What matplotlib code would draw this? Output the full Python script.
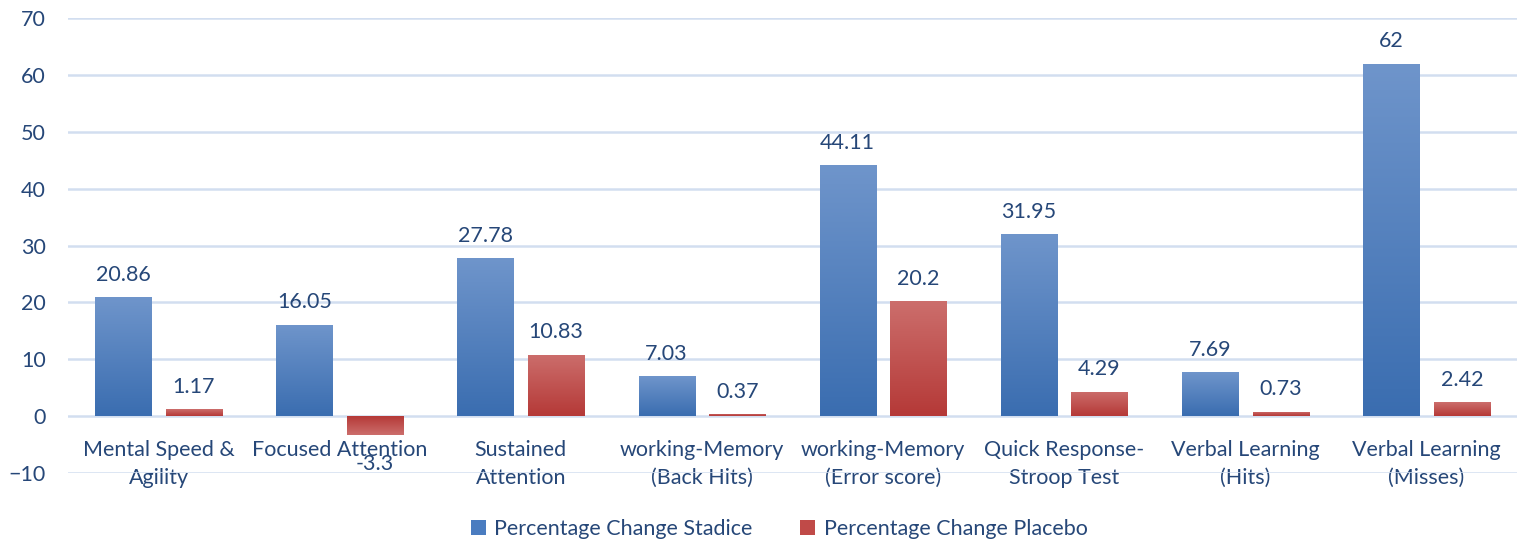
import numpy as np
import matplotlib
matplotlib.use("Agg")
import matplotlib.pyplot as plt
from matplotlib.colors import LinearSegmentedColormap

categories = ["Mental Speed &\nAgility", "Focused Attention", "Sustained\nAttention",
              "working-Memory\n(Back Hits)", "working-Memory\n(Error score)",
              "Quick Response-\nStroop Test", "Verbal Learning\n(Hits)", "Verbal Learning\n(Misses)"]
stadice = [20.86, 16.05, 27.78, 7.03, 44.11, 31.95, 7.69, 62]
placebo = [1.17, -3.3, 10.83, 0.37, 20.2, 4.29, 0.73, 2.42]
series_names = ["Percentage Change Stadice", "Percentage Change Placebo"]

plt.rcParams['font.family'] = ['Lato', 'DejaVu Sans']
txt = "#264778"
fs = 15.5

fig = plt.figure(figsize=(15.17, 5.39), dpi=100)
ax = fig.add_axes([68/1517, 1-473/539, 1-68/1517, (473-18)/539])

x = np.arange(len(categories))
w = 0.31
off = 0.195
b1 = ax.bar(x - off, stadice, w, color="#4a7cc0", label=series_names[0], zorder=2)
b2 = ax.bar(x + off, placebo, w, color="#c04a48", label=series_names[1], zorder=2)

blue_cmap = LinearSegmentedColormap.from_list("b", ["#3a6db0", "#6f95cb"])
red_cmap = LinearSegmentedColormap.from_list("r", ["#b53937", "#cc6e6c"])
grad = np.linspace(0, 1, 256).reshape(-1, 1)
for bars, cmap in ((b1, blue_cmap), (b2, red_cmap)):
    for p in bars:
        x0, y0 = p.get_x(), p.get_y()
        wd, ht = p.get_width(), p.get_height()
        lo, hi = min(y0, y0 + ht), max(y0, y0 + ht)
        g = grad if ht >= 0 else grad[::-1]
        im = ax.imshow(g, cmap=cmap, aspect='auto', origin='lower',
                       extent=[x0, x0 + wd, lo, hi], zorder=3)
        im.set_clip_path(p)
        p.set_facecolor("none")

for bars, vals in ((b1, stadice), (b2, placebo)):
    for p, v in zip(bars, vals):
        cx = p.get_x() + p.get_width() / 2
        if v >= 0:
            ax.annotate(f"{v:g}", (cx, v), xytext=(0, 9), textcoords="offset points",
                        ha="center", va="bottom", fontsize=fs, color=txt, zorder=4)
        else:
            ax.annotate(f"{v:g}", (cx, v), xytext=(0, -14), textcoords="offset points",
                        ha="center", va="top", fontsize=fs, color=txt, zorder=4)

ax.set_ylim(-10, 70)
ax.set_yticks(range(-10, 71, 10))
ax.set_xlim(-0.5, len(categories) - 0.5)
ax.set_xticks(x)
ax.spines['bottom'].set_position(('data', 0))
ax.set_xticklabels(categories, fontsize=fs, color=txt, linespacing=1.5)
ax.tick_params(axis='x', length=0, pad=17)
ax.tick_params(axis='y', length=0, pad=16, labelsize=fs, labelcolor=txt)
ax.grid(axis='y', color="#d2def0", linewidth=1.8, zorder=0)
ax.set_axisbelow(True)
for s in ax.spines.values():
    s.set_visible(False)

leg = fig.legend(handles=[b1, b2], loc="center", bbox_to_anchor=(779/1517, 1-529/539),
                 ncol=2, frameon=False, fontsize=fs, handlelength=0.7, handleheight=0.7,
                 columnspacing=2.2, handletextpad=0.4)
leg.legend_handles[0].set_facecolor("#4a7cc0")
leg.legend_handles[1].set_facecolor("#c04a48")
for t in leg.get_texts():
    t.set_color(txt)

fig.savefig("out.png", dpi=100)
